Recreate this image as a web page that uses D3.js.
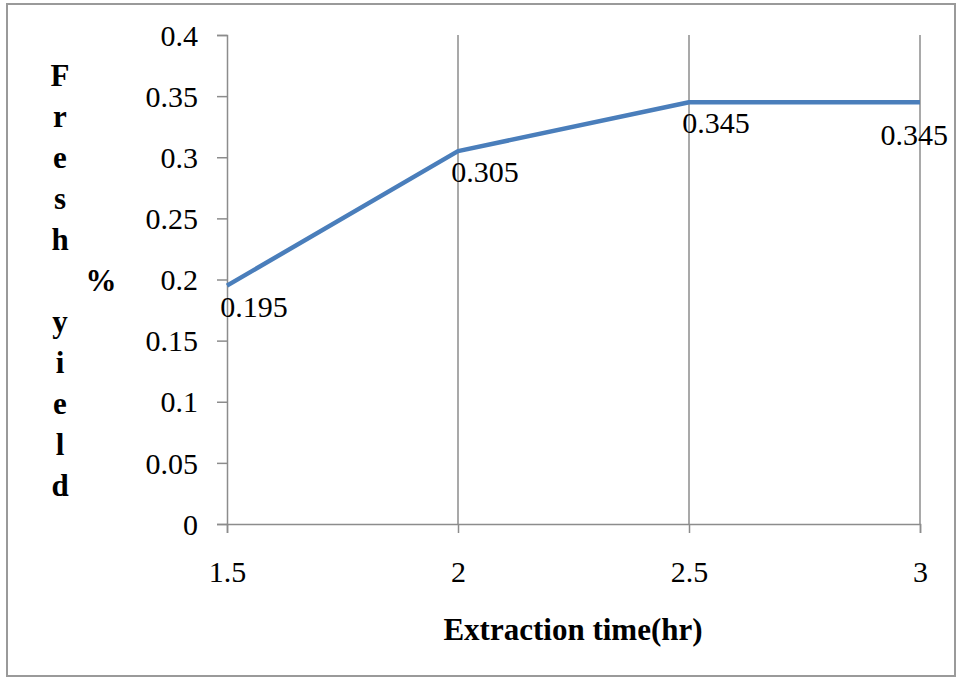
<!DOCTYPE html>
<html>
<head>
<meta charset="utf-8">
<script src="https://cdn.jsdelivr.net/npm/d3@7"></script>
<style>
  html, body { margin: 0; padding: 0; background: #fff; }
  svg { display: block; }
  text { font-family: "Liberation Serif", "Times New Roman", serif; fill: #000; }
</style>
</head>
<body>
<svg id="chart" width="957" height="678"></svg>
<script>
// Extraction time (hr) and fresh yield (%)
const times = [1.5, 2, 2.5, 3];
const yieldPct = [0.195, 0.305, 0.345, 0.345];
const yTicks = [0, 0.05, 0.1, 0.15, 0.2, 0.25, 0.3, 0.35, 0.4];
const xTicks = [1.5, 2, 2.5, 3];
const xTitle = "Extraction time(hr)";
const yTitleTop = ["F", "r", "e", "s", "h"];
const yTitleMid = "%";
const yTitleBottom = ["y", "i", "e", "l", "d"];

const serif = '"Liberation Serif", "Times New Roman", serif';
const svg = d3.select("#chart");
const W = 957, H = 678;
const plot = { left: 227, right: 920, top: 35, bottom: 524 };

// outer chart border
svg.append("rect")
  .attr("x", 7).attr("y", 4)
  .attr("width", W - 9).attr("height", H - 6)
  .attr("fill", "#fff").attr("stroke", "#9a9a9a").attr("stroke-width", 2);

const x = d3.scaleLinear().domain([1.5, 3]).range([plot.left, plot.right]);
const y = d3.scaleLinear().domain([0, 0.4]).range([plot.bottom, plot.top]);

const axisColor = "#8c8c8c";

// vertical gridlines
svg.append("g").selectAll("line")
  .data(xTicks.slice(1))
  .join("line")
  .attr("x1", d => x(d)).attr("x2", d => x(d))
  .attr("y1", plot.top).attr("y2", plot.bottom)
  .attr("stroke", axisColor).attr("stroke-width", 1.5);

// y axis
const yAxis = svg.append("g")
  .attr("transform", `translate(${plot.left},0)`)
  .call(d3.axisLeft(y).tickValues(yTicks).tickSize(10).tickPadding(19)
    .tickFormat(d => String(+d.toFixed(2))));
yAxis.attr("font-family", serif).attr("font-size", 30);
yAxis.select(".domain").attr("stroke", axisColor).attr("stroke-width", 1.5);
yAxis.selectAll(".tick line").attr("stroke", axisColor).attr("stroke-width", 1.5);
yAxis.selectAll(".tick text").attr("dy", "0.34em");

// x axis
const xAxis = svg.append("g")
  .attr("transform", `translate(0,${plot.bottom})`)
  .call(d3.axisBottom(x).tickValues(xTicks).tickSize(9).tickPadding(0)
    .tickFormat(d => String(d)));
xAxis.attr("font-family", serif).attr("font-size", 30);
xAxis.select(".domain").attr("stroke", axisColor).attr("stroke-width", 1.5);
xAxis.selectAll(".tick line").attr("stroke", axisColor).attr("stroke-width", 1.5);
xAxis.selectAll(".tick text").attr("y", 58).attr("dy", 0);

// data line
const pts = times.map((t, i) => ({ t, v: yieldPct[i] }));
svg.append("path")
  .datum(pts)
  .attr("fill", "none")
  .attr("stroke", "#4a7ebb")
  .attr("stroke-width", 4.5)
  .attr("stroke-linejoin", "round")
  .attr("d", d3.line().x(d => x(d.t)).y(d => y(d.v)));

// value labels below each point, kept inside the chart border
const labelLimit = 948;
svg.append("g").selectAll("text")
  .data(pts)
  .join("text")
  .attr("font-family", serif)
  .attr("font-size", 30)
  .attr("text-anchor", "middle")
  .text(d => String(d.v))
  .each(function (d) {
    const w = this.getComputedTextLength();
    const cx = x(d.t) + 27;
    const clamped = cx + w / 2 > labelLimit;
    d3.select(this)
      .attr("x", clamped ? labelLimit - w / 2 : cx)
      .attr("y", y(d.v) + (clamped ? 43 : 31));
  });

// x axis title
svg.append("text")
  .attr("x", 573).attr("y", 640)
  .attr("text-anchor", "middle")
  .attr("font-family", serif)
  .attr("font-size", 31).attr("font-weight", "bold")
  .text(xTitle);

// stacked y axis title
const yt = svg.append("g")
  .attr("font-family", serif)
  .attr("font-size", 31).attr("font-weight", "bold");
yTitleTop.concat([null], yTitleBottom).forEach((ch, i) => {
  if (ch === null) return;
  yt.append("text")
    .attr("x", 60).attr("y", 86 + i * 41)
    .attr("text-anchor", "middle")
    .text(ch);
});
yt.append("text")
  .attr("x", 101).attr("y", 86 + 5 * 41)
  .attr("text-anchor", "middle")
  .text(yTitleMid);
</script>
</body>
</html>
